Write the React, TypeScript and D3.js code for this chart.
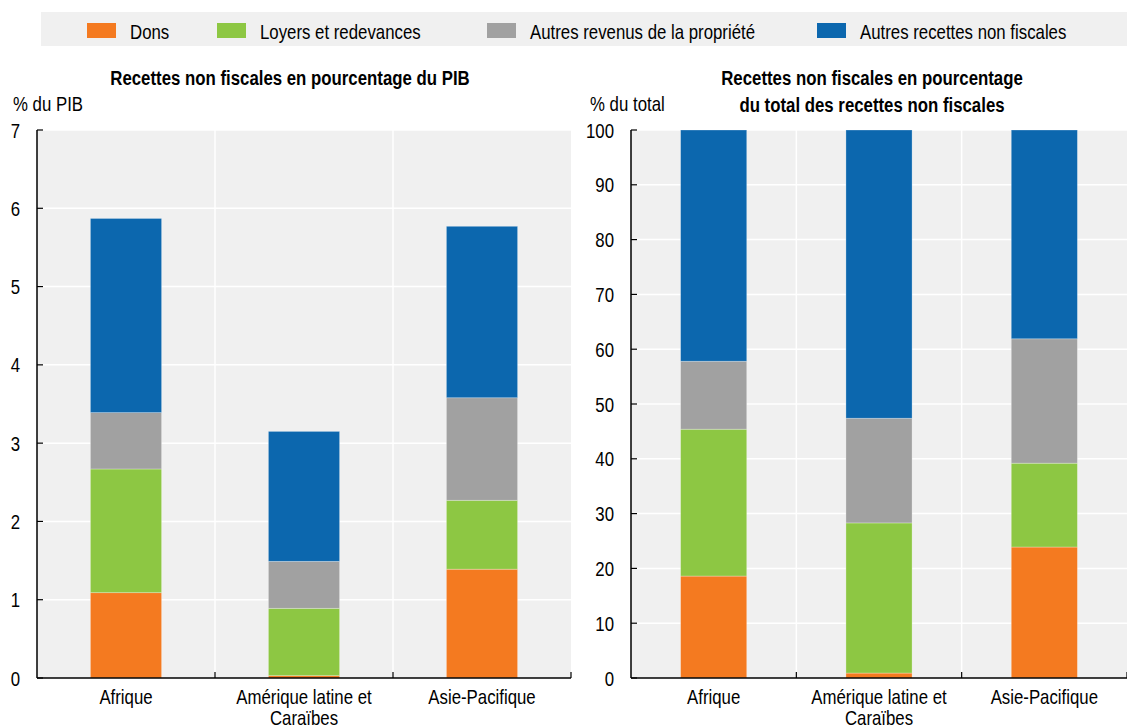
import React from "react";
import * as d3 from "d3";

const categories = ["Afrique", "Amérique latine et Caraïbes", "Asie-Pacifique"];
const categoryLines = [["Afrique"], ["Amérique latine et", "Caraïbes"], ["Asie-Pacifique"]];
const seriesNames = ["Dons", "Loyers et redevances", "Autres revenus de la propriété", "Autres recettes non fiscales"];
const seriesColors = ["#f47a20", "#8dc743", "#a1a1a1", "#0c67ae"];

// Panel 1: % du PIB
const pibDons = [1.09, 0.03, 1.39];
const pibLoyers = [1.58, 0.86, 0.88];
const pibAutresRevenus = [0.72, 0.6, 1.31];
const pibAutresRecettes = [2.48, 1.66, 2.19];
const pibTicks = [0, 1, 2, 3, 4, 5, 6, 7];

// Panel 2: % du total
const pctDons = [18.6, 0.9, 23.9];
const pctLoyers = [26.8, 27.4, 15.3];
const pctAutresRevenus = [12.4, 19.1, 22.7];
const pctAutresRecettes = [42.2, 52.6, 38.1];
const pctTicks = [0, 10, 20, 30, 40, 50, 60, 70, 80, 90, 100];

const FONT = "'Liberation Sans', Arial, sans-serif";
const FS = 20.5;
const NARROW = 0.82;

function T(props: { x: number; y: number; anchor?: string; bold?: boolean; children: React.ReactNode }) {
  return (
    <text
      transform={`translate(${props.x},${props.y}) scale(${NARROW},1)`}
      textAnchor={props.anchor || "start"}
      fontSize={FS}
      fontWeight={props.bold ? "bold" : "normal"}
      fontFamily={FONT}
      fill="#000"
    >
      {props.children}
    </text>
  );
}

type PanelProps = {
  x0: number; x1: number; y0: number; y1: number;
  series: number[][]; ticks: number[]; max: number;
  unitLabel: string; unitX: number; titleLines: string[]; titleX: number; titleY: number;
};

function Panel(p: PanelProps) {
  const x = d3.scaleBand<string>().domain(categories).range([p.x0, p.x1]).padding(0);
  const y = d3.scaleLinear().domain([0, p.max]).range([p.y1, p.y0]);
  const rows = categories.map((c, i) => {
    const r: any = { cat: c };
    seriesNames.forEach((s, k) => (r[s] = p.series[k][i]));
    return r;
  });
  const stacked = d3.stack<any>().keys(seriesNames)(rows);
  const bw = x.bandwidth() * 0.4;
  const bounds = categories.map((c) => (x(c) as number) + x.bandwidth());
  return (
    <g>
      <rect x={p.x0} y={p.y0} width={p.x1 - p.x0} height={p.y1 - p.y0} fill="#f0f0f0" />
      {p.ticks.filter((t) => t > 0).map((t) => (
        <line key={"h" + t} x1={p.x0} x2={p.x1} y1={y(t)} y2={y(t)} stroke="#fff" strokeWidth={1.5} />
      ))}
      {bounds.slice(0, -1).map((b, i) => (
        <line key={"v" + i} x1={b} x2={b} y1={p.y0} y2={p.y1} stroke="#fff" strokeWidth={1.5} />
      ))}
      {stacked.map((layer, k) => (
        <g key={layer.key} fill={seriesColors[k]}>
          {layer.map((d, i) => {
            const cx = (x(categories[i]) as number) + x.bandwidth() / 2;
            return (
              <rect key={i} x={cx - bw / 2} width={bw} y={y(d[1])} height={Math.max(0, y(d[0]) - y(d[1]))}
                stroke="#ffffff" strokeOpacity={0.35} strokeWidth={0.8} />
            );
          })}
        </g>
      ))}
      {/* y axis */}
      <line x1={p.x0} x2={p.x0} y1={p.y0} y2={p.y1} stroke="#000" strokeWidth={1.5} />
      {p.ticks.map((t) => (
        <g key={"t" + t}>
          <line x1={p.x0} x2={p.x0 + 6} y1={y(t)} y2={y(t)} stroke="#000" strokeWidth={1.2} />
          <T x={p.x0 - 17} y={y(t) + 7.5} anchor="end">{t}</T>
        </g>
      ))}
      {/* x axis */}
      <line x1={p.x0} x2={p.x1} y1={p.y1} y2={p.y1} stroke="#000" strokeWidth={1.5} />
      {bounds.map((b, i) => (
        <line key={"xt" + i} x1={b} x2={b} y1={p.y1} y2={p.y1 - 6} stroke="#000" strokeWidth={1.2} />
      ))}
      {categories.map((c, i) => {
        const cx = (x(c) as number) + x.bandwidth() / 2;
        return categoryLines[i].map((l, j) => (
          <T key={c + j} x={cx} y={p.y1 + 26 + j * 21} anchor="middle">{l}</T>
        ));
      })}
      <T x={p.unitX} y={111}>{p.unitLabel}</T>
      {p.titleLines.map((l, j) => (
        <T key={j} x={p.titleX} y={p.titleY + j * 26.5} anchor="middle" bold>{l}</T>
      ))}
    </g>
  );
}

export default function App() {
  const legendX = [87, 217, 487, 817];
  return (
    <svg width={1127} height={728} style={{ position: "absolute", left: 0, top: 0, background: "#fff" }}>
      <rect x={41} y={12} width={1086} height={34} fill="#f0f0f0" />
      {seriesNames.map((s, i) => (
        <g key={s}>
          <rect x={legendX[i]} y={23} width={29} height={15} fill={seriesColors[i]} />
          <T x={legendX[i] + 43} y={39}>{s}</T>
        </g>
      ))}
      <Panel x0={37} x1={571} y0={130} y1={678}
        series={[pibDons, pibLoyers, pibAutresRevenus, pibAutresRecettes]}
        ticks={pibTicks} max={7} unitLabel="% du PIB" unitX={13}
        titleLines={["Recettes non fiscales en pourcentage du PIB"]} titleX={290} titleY={85} />
      <Panel x0={631} x1={1127} y0={130} y1={678}
        series={[pctDons, pctLoyers, pctAutresRevenus, pctAutresRecettes]}
        ticks={pctTicks} max={100} unitLabel="% du total" unitX={590}
        titleLines={["Recettes non fiscales en pourcentage", "du total des recettes non fiscales"]} titleX={872} titleY={85} />
    </svg>
  );
}
